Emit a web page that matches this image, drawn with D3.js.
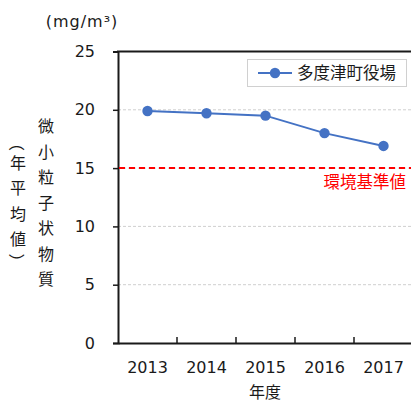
<!DOCTYPE html>
<html>
<head>
<meta charset="utf-8">
<script src="https://cdn.jsdelivr.net/npm/d3@7/dist/d3.min.js"></script>
<style>
  html, body { margin: 0; padding: 0; background: #fff; }
  svg { display: block; }
</style>
</head>
<body>
<script>
// Annual mean PM2.5 at the 多度津町役場 monitoring station
const years = ["2013", "2014", "2015", "2016", "2017"];
const pm25 = [19.9, 19.7, 19.5, 18.0, 16.9];
const yTicks = [0, 5, 10, 15, 20, 25];
const standardValue = 15;
const seriesName = "多度津町役場";
const standardLabel = "環境基準値";
const unitLabel = "(mg/m³)";
const yTitle = "微小粒子状物質";
const ySubTitle = "（年平均値）";
const xTitle = "年度";

const W = 411, H = 403;
const plotLeft = 118, plotRight = 413, plotTop = 51.5, plotBottom = 343;
const jpFont = "'Noto Sans CJK JP', sans-serif";
const numFont = "'DejaVu Sans', Verdana, sans-serif";

const svg = d3.select("body").append("svg").attr("width", W).attr("height", H);

const x = d3.scaleBand().domain(years).range([plotLeft, plotRight]);
const y = d3.scaleLinear().domain([0, 25]).range([plotBottom, plotTop]);

// horizontal gridlines
svg.append("g").selectAll("line")
  .data(yTicks.filter(d => d > 0 && d < 25))
  .join("line")
  .attr("x1", plotLeft).attr("x2", W)
  .attr("y1", d => y(d)).attr("y2", d => y(d))
  .attr("stroke", "#cfcfcf").attr("stroke-width", 1)
  .attr("stroke-dasharray", "3,2");

// top border of the plot area
svg.append("line")
  .attr("x1", plotLeft - 1).attr("x2", W)
  .attr("y1", y(25)).attr("y2", y(25))
  .attr("stroke", "#1a1a1a").attr("stroke-width", 2);

// y axis
const yAxis = svg.append("g")
  .attr("transform", `translate(${plotLeft},0)`)
  .call(d3.axisLeft(y).tickValues(yTicks).tickSize(5).tickPadding(18));
yAxis.select(".domain").attr("stroke", "#1a1a1a").attr("stroke-width", 2);
yAxis.selectAll(".tick line").attr("stroke", "#1a1a1a").attr("stroke-width", 1.5);
yAxis.selectAll(".tick text")
  .attr("font-family", numFont).attr("font-size", 16).attr("fill", "#1a1a1a");

// x axis with ticks between categories, pointing inward
const xAxis = svg.append("g")
  .attr("transform", `translate(0,${plotBottom})`)
  .call(d3.axisBottom(x).tickSize(0).tickPadding(19));
xAxis.select(".domain").attr("stroke", "#1a1a1a").attr("stroke-width", 2);
xAxis.selectAll(".tick text")
  .attr("font-family", numFont).attr("font-size", 16).attr("fill", "#1a1a1a");
xAxis.append("g").selectAll("line")
  .data(years.slice(1))
  .join("line")
  .attr("x1", d => x(d)).attr("x2", d => x(d))
  .attr("y1", 0).attr("y2", -6)
  .attr("stroke", "#1a1a1a").attr("stroke-width", 1.5);

// environmental standard line
svg.append("line")
  .attr("x1", plotLeft + 1).attr("x2", W)
  .attr("y1", y(standardValue)).attr("y2", y(standardValue))
  .attr("stroke", "#ff0000").attr("stroke-width", 2)
  .attr("stroke-dasharray", "6,4");
svg.append("text")
  .attr("x", 406).attr("y", y(standardValue) + 20)
  .attr("text-anchor", "end")
  .attr("font-family", jpFont).attr("font-size", 16.5)
  .attr("fill", "#ff0000")
  .text(standardLabel);

// data series
const data = years.map((yr, i) => ({ yr, v: pm25[i] }));
const cx = d => x(d.yr) + x.bandwidth() / 2;
svg.append("path")
  .datum(data)
  .attr("fill", "none")
  .attr("stroke", "#4472c4").attr("stroke-width", 2)
  .attr("d", d3.line().x(cx).y(d => y(d.v)));
svg.append("g").selectAll("circle")
  .data(data)
  .join("circle")
  .attr("cx", cx).attr("cy", d => y(d.v))
  .attr("r", 5.2).attr("fill", "#4472c4");

// legend
const lg = svg.append("g");
lg.append("rect")
  .attr("x", 247.5).attr("y", 59.5).attr("width", 159).attr("height", 27)
  .attr("fill", "#fff").attr("stroke", "#d0d0d0").attr("stroke-width", 1);
lg.append("line")
  .attr("x1", 258).attr("x2", 292).attr("y1", 73).attr("y2", 73)
  .attr("stroke", "#4472c4").attr("stroke-width", 2);
lg.append("circle").attr("cx", 275).attr("cy", 73).attr("r", 5.2).attr("fill", "#4472c4");
lg.append("text")
  .attr("x", 297).attr("y", 79)
  .attr("font-family", jpFont).attr("font-size", 16.5).attr("fill", "#1a1a1a")
  .text(seriesName);

// unit label
svg.append("text")
  .attr("x", 82).attr("y", 27)
  .attr("text-anchor", "middle")
  .attr("font-family", numFont).attr("font-size", 16).attr("letter-spacing", 1)
  .attr("fill", "#1a1a1a")
  .text(unitLabel);

// x axis title
svg.append("text")
  .attr("x", 265).attr("y", 398)
  .attr("text-anchor", "middle")
  .attr("font-family", jpFont).attr("font-size", 16).attr("fill", "#1a1a1a")
  .text(xTitle);

// vertical y-axis titles, one character per line; brackets turned upright
function verticalText(str, cxPos, startY, pitch) {
  const shift = d => d === "（" ? 7 : d === "）" ? -2 : 0;
  svg.append("g").selectAll("text")
    .data(Array.from(str))
    .join("text")
    .attr("x", cxPos)
    .attr("y", (d, i) => startY + i * pitch + shift(d))
    .attr("text-anchor", "middle")
    .attr("dominant-baseline", "central")
    .attr("font-family", jpFont).attr("font-size", 16).attr("fill", "#1a1a1a")
    .attr("transform", (d, i) => (d === "（" || d === "）")
      ? `rotate(90,${cxPos},${startY + i * pitch + shift(d)})` : null)
    .text(d => d);
}
verticalText(yTitle, 46, 125, 25.5);
verticalText(ySubTitle, 18, 136, 25.5);
</script>
</body>
</html>
